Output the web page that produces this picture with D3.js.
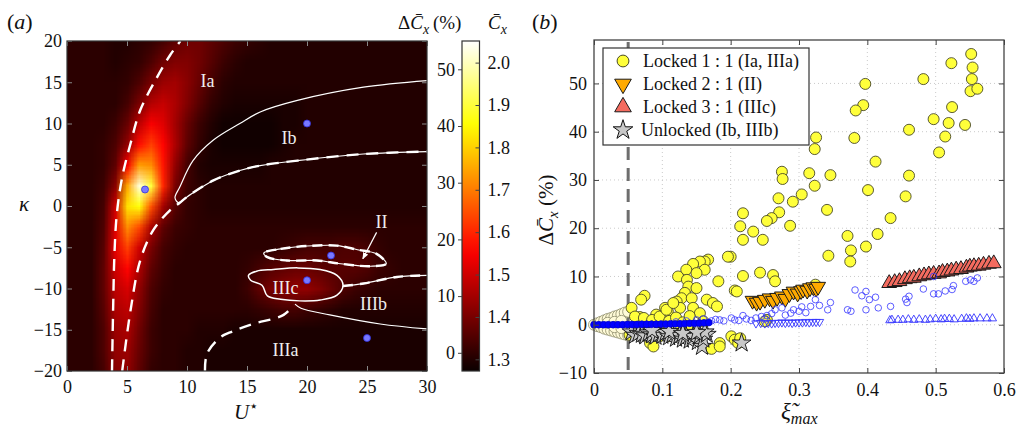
<!DOCTYPE html>
<html>
<head>
<meta charset="utf-8">
<script src="https://cdn.jsdelivr.net/npm/d3@7"></script>
<style>
  body { margin: 0; background: #fff; }
  svg { display: block; font-family: "Liberation Serif", "DejaVu Serif", serif; }
</style>
</head>
<body>
<script>
// ---------- panel (a): Cx map over (U*, kappa), values are Cx x 100 ----------
const uCols = [0, 1, 2, 3, 4, 5, 6, 7, 8, 9, 10, 11, 12, 13, 14, 15, 16, 17, 18, 19, 20, 21, 22, 23, 24, 25, 26, 27, 28, 29, 30];
const kappaRows = [20, 17.5, 15, 12.5, 10, 7.5, 5, 2.5, 0, -2.5, -5, -7.5, -10, -12.5, -15, -17.5, -20];
const cxGrid = [
  [131,131,131,131,130,130,131,132,134,137,139,139,137,135,133,132,131,130,130,130,130,130,130,130,130,130,130,130,130,130,130],
  [131,131,131,131,130,131,132,135,139,141,141,139,136,133,131,130,130,130,130,130,130,130,130,130,130,130,130,130,130,130,130],
  [131,131,131,131,131,132,135,140,144,145,142,138,134,131,130,130,130,130,130,130,130,130,130,130,130,130,130,130,130,130,130],
  [131,131,131,131,131,134,140,147,149,146,141,136,132,130,129,129,129,129,129,129,130,130,130,130,130,130,130,130,130,130,130],
  [131,131,131,131,133,138,148,155,152,145,138,133,130,128,128,128,128,128,129,129,130,130,130,130,130,130,130,130,130,130,130],
  [131,131,131,132,135,143,157,163,156,146,137,132,129,128,128,128,128,128,129,130,130,130,130,130,130,130,130,130,130,130,130],
  [131,131,131,132,137,155,174,172,158,143,134,130,129,129,129,129,129,130,130,130,130,130,130,130,130,130,130,130,130,130,130],
  [131,131,131,133,142,175,202,190,160,140,133,131,130,130,130,130,130,130,130,130,130,130,130,130,130,130,130,130,130,130,130],
  [131,131,131,134,150,182,186,165,145,136,132,131,130,130,130,130,130,130,130,130,130,130,130,130,130,130,130,130,130,130,130],
  [131,131,131,135,152,172,164,146,137,133,132,131,131,131,131,131,131,131,131,131,131,131,131,131,131,131,131,131,131,131,131],
  [131,131,131,136,153,163,150,140,134,132,131,131,131,131,131,131,131,131,132,133,134,134,134,135,135,134,132,131,131,131,131],
  [131,131,131,137,150,156,146,137,133,131,131,131,131,131,131,132,134,136,137,138,138,137,136,136,136,135,133,132,131,131,131],
  [131,131,131,137,148,151,143,135,132,131,131,131,131,131,131,133,137,140,142,143,143,141,138,135,133,132,131,131,131,131,131],
  [131,131,131,136,146,148,141,134,131,131,131,131,131,131,131,131,132,133,134,134,133,132,131,130,130,130,130,130,130,130,130],
  [131,131,131,135,144,146,139,133,131,131,131,130,130,130,129,129,129,129,129,129,129,129,129,129,129,129,129,129,129,129,129],
  [131,131,131,135,143,144,138,133,131,131,130,130,129,129,129,129,129,129,129,129,129,129,129,129,129,129,129,129,129,129,129],
  [131,131,131,134,142,143,137,132,131,131,130,130,129,129,129,129,129,129,129,129,129,129,129,129,129,129,129,129,129,129,129]
];
const uTicks = [0, 5, 10, 15, 20, 25, 30];
const kappaTicks = [-20, -15, -10, -5, 0, 5, 10, 15, 20];
const cxTicks = [1.3, 1.4, 1.5, 1.6, 1.7, 1.8, 1.9, 2.0];
const dcTicks = [0, 10, 20, 30, 40, 50];

// regime boundaries (U*, kappa)
const leftDashed = [[3.75,-20],[3.85,-12],[3.95,-6],[4.15,-1],[4.6,3.5],[5.3,7.6],[6.1,11.6],[7.5,15.6],[8.6,18.3],[9.45,20]];
const midDashed = [[4.6,-20],[5.3,-12.6],[6.1,-6.6],[7.2,-2.9],[8.6,-0.5],[9.4,0.4],[10,1.1],[12.2,3.1],[14.4,4.3],[16.1,4.9],[19.2,5.5],[24.7,6.3],[30,6.6]];
const ibSolid = [[30,15.2],[24.7,14.4],[19.2,12.8],[16.1,11.4],[14.4,10],[12.2,8],[10.5,5.5],[9.4,2.3],[9.0,1.0],[9.3,0.4],[10,1.1],[12.2,3.1],[14.4,4.3],[16.1,4.9],[19.2,5.5],[24.7,6.3],[30,6.6]];
const iiiaDashed = [[11.5,-20],[11.67,-17.9],[12.8,-15.9],[13.8,-15.2],[15.5,-14.3],[18.05,-13.2],[18.9,-12.0]];
const iiibLower = [[19.0,-11.9],[19.5,-12.4],[21.9,-13.2],[26.1,-14.3],[30,-14.9]];
const iiibUpper = [[23.0,-9.7],[24.7,-9.4],[27.5,-8.6],[30,-8.4]];
const iiicLoop = [[15.13,-8.4],[15.8,-7.9],[17.2,-7.7],[19.2,-7.5],[21.1,-7.7],[22.5,-8.4],[23.0,-9.6],[22.5,-10.8],[21.1,-11.4],[19.4,-11.5],[17.8,-11.3],[16.7,-10.9],[16.25,-9.6],[15.3,-9.0]];
const iiLoop = [[16.4,-5.7],[17.8,-5.2],[20,-4.85],[22.5,-4.8],[24.2,-5.3],[25.8,-5.8],[26.6,-7.0],[25.3,-7.3],[22.8,-7.0],[20.8,-6.6],[18.3,-6.6],[16.7,-6.2]];
const iiArrow = [[25.8,-3.2],[24.65,-6.4]];
const caseDots = [[6.5,2],[20,10],[22,-6],[20,-9],[25,-16]];
const regimeLabels = [["Ia",11.7,15.1],["Ib",18.5,8.3],["II",26.2,-1.95],["IIIc",18.2,-9.9],["IIIb",25.55,-11.9],["IIIa",18.2,-17.5]];

// ---------- panel (b): drag increase vs max amplitude ----------
const xiTicks = [0, 0.1, 0.2, 0.3, 0.4, 0.5, 0.6];
const dcAxisTicks = [-10, 0, 10, 20, 30, 40, 50];
const locked11 = [
  [0.552,56.1],[0.523,54.2],[0.554,53.3],[0.553,50.9],[0.482,50.9],[0.397,49.9],[0.551,48.4],[0.561,48.9],
  [0.394,45.5],[0.383,44.4],[0.524,45.1],[0.497,42.6],[0.519,41.8],[0.543,41.4],[0.461,40.4],[0.381,38.7],
  [0.325,38.8],[0.323,36.4],[0.514,39.0],[0.505,35.7],[0.412,33.8],[0.275,31.7],[0.276,30.2],[0.315,31.4],
  [0.346,31.0],[0.461,30.9],[0.323,28.8],[0.401,27.9],[0.456,26.6],[0.270,26.2],[0.291,25.5],[0.304,27.0],
  [0.271,23.3],[0.341,23.8],[0.434,22.1],[0.260,22.1],[0.253,21.5],[0.287,20.5],[0.371,18.4],[0.415,18.8],
  [0.398,16.2],[0.247,17.6],[0.376,15.4],[0.343,14.3],[0.375,13.1],[0.243,10.8],[0.262,10.3],[0.265,9.0],
  [0.218,23.1],[0.214,20.4],[0.218,17.6],[0.233,19.3],[0.200,14.1],[0.218,10.1],[0.206,7.1],[0.182,9.0],
  [0.167,13.5],[0.162,13.1],[0.155,13.1],[0.162,11.4],[0.145,12.6],[0.135,11.4],[0.150,10.7],[0.123,10.0],
  [0.136,9.3],[0.138,7.9],[0.150,7.6],[0.133,6.6],[0.128,5.5],[0.143,5.5],[0.121,4.8],[0.165,5.2],
  [0.174,4.5],[0.180,3.8],[0.074,6.0],[0.069,5.2],[0.055,3.5],[0.091,2.1],[0.104,3.5],[0.108,2.8],
  [0.126,3.5],[0.145,3.5],[0.155,2.4],[0.067,1.6],[0.060,1.7],[0.073,1.4],[0.085,1.0],[0.096,1.7],
  [0.110,0.8],[0.120,1.5],[0.130,0.5],[0.140,1.8],[0.160,0.7],[0.106,3.1],[0.116,4.5],[0.090,-1.0],
  [0.100,-1.5],[0.120,-1.0],[0.140,-1.2],[0.070,-0.8],[0.084,-2.4],[0.082,-3.8],[0.087,-4.5],[0.096,-2.4],
  [0.108,-2.4],[0.172,-5.0],[0.184,-3.8],[0.184,-4.5],[0.201,-2.4],[0.206,-3.1],[0.211,-3.8],[0.214,-2.8],
  [0.052,-2.1],[0.209,6.9],[0.253,1.0],[0.250,0.7],[0.324,8.3],[0.196,14.1]
];
const locked21 = [
  [0.232,5.0],[0.238,4.6],[0.243,4.8],[0.250,5.2],[0.257,5.5],[0.262,5.0],[0.268,5.6],[0.275,5.9],[0.280,5.4],
  [0.286,6.4],[0.292,6.9],[0.298,6.5],[0.303,7.0],[0.306,7.3],[0.312,7.1],[0.316,7.6],[0.321,7.8],[0.325,7.5],[0.328,7.9]
];
const locked31 = [
  [0.432,8.6],[0.440,8.8],[0.447,9.0],[0.455,9.4],[0.462,9.6],[0.468,9.7],[0.476,10.0],[0.483,10.2],
  [0.490,10.4],[0.497,10.5],[0.505,10.6],[0.510,10.9],[0.517,11.0],[0.523,11.2],[0.530,11.4],[0.537,11.5],
  [0.545,11.8],[0.550,12.0],[0.556,12.1],[0.563,12.2],[0.570,12.4],[0.578,12.6],[0.585,12.7]
];
const unlocked = [
  [0.055,-1.5],[0.060,-2.2],[0.065,-1.8],[0.070,-2.0],[0.075,-2.3],[0.080,-1.7],[0.085,-2.1],[0.090,-2.4],
  [0.095,-1.9],[0.100,-2.2],[0.105,-1.6],[0.110,-2.5],[0.115,-2.0],[0.120,-2.8],[0.125,-2.2],[0.130,-3.0],
  [0.135,-2.5],[0.140,-3.2],[0.145,-2.4],[0.152,-3.5],[0.155,-2.2],[0.158,-4.5],[0.160,-3.0],[0.165,-2.0],
  [0.162,-1.5],[0.216,-3.8],[0.085,-1.2],[0.110,-1.4],[0.130,-1.8],[0.150,-1.6]
];
const smallAmp = [
  [0,0],[0.005,0.3],[0.005,-0.3],[0.010,0.6],[0.010,-0.5],[0.015,0.9],[0.015,-0.8],[0.020,1.2],[0.020,-1.0],
  [0.025,1.4],[0.025,-1.2],[0.030,1.7],[0.030,-1.4],[0.035,1.9],[0.035,-1.6],[0.040,2.2],[0.040,-1.8],
  [0.045,2.5],[0.045,-2.0],[0.050,2.7],[0.050,-2.2],[0.020,0.4],[0.030,0.6],[0.040,0.8],[0.030,-0.5],[0.040,-0.7]
];
const linearBand = [
  [0,0],[0.007,0],[0.014,0],[0.021,0],[0.028,0],[0.035,0],[0.042,0],[0.049,0.05],[0.056,0.05],[0.063,0.05],
  [0.070,0.1],[0.077,0.1],[0.084,0.1],[0.091,0.1],[0.098,0.15],[0.105,0.15],[0.112,0.2],[0.119,0.2],
  [0.126,0.2],[0.133,0.25],[0.140,0.3],[0.147,0.3],[0.154,0.35],[0.161,0.4],[0.168,0.45]
];
const cylCircles = [
  [0.120,0.6],[0.135,0.8],[0.150,1.0],[0.160,1.2],[0.172,0.8],[0.178,1.1],[0.184,1.0],[0.190,0.8],[0.201,1.4],
  [0.206,1.0],[0.212,0.9],[0.218,1.9],[0.223,1.2],[0.230,0.9],[0.237,1.4],[0.245,1.7],[0.250,1.2],[0.253,1.9],
  [0.260,2.3],[0.265,3.1],[0.275,3.5],[0.280,2.0],[0.288,2.4],[0.292,3.1],[0.300,2.8],[0.304,3.7],[0.310,2.5],
  [0.317,3.8],[0.324,5.2],[0.330,4.0],[0.342,3.1],[0.346,4.6],[0.371,3.1],[0.376,2.8],[0.382,7.2],[0.392,6.0],
  [0.398,6.9],[0.398,3.1],[0.403,5.2],[0.412,5.7],[0.416,3.5],[0.434,3.8],[0.456,5.3],[0.461,5.9],[0.458,4.6],
  [0.482,7.4],[0.497,6.4],[0.497,10.0],[0.504,6.4],[0.514,7.0],[0.524,7.3],[0.526,8.1],[0.544,9.0],[0.551,9.3],
  [0.556,9.0],[0.561,9.7]
];
const cylDown = [
  [0.237,0.3],[0.244,0.4],[0.250,0.3],[0.255,0.4],[0.260,0.3],[0.265,0.4],[0.270,0.4],[0.275,0.5],[0.280,0.4],
  [0.285,0.5],[0.290,0.4],[0.295,0.5],[0.300,0.5],[0.305,0.5],[0.310,0.6],[0.315,0.5],[0.320,0.6],[0.325,0.6],[0.330,0.6]
];
const cylUp = [
  [0.433,0.9],[0.436,1.0],[0.445,1.0],[0.452,1.0],[0.460,1.1],[0.468,1.0],[0.476,1.1],[0.485,1.0],[0.492,1.1],
  [0.500,1.2],[0.508,1.1],[0.513,1.2],[0.520,1.2],[0.527,1.1],[0.538,1.2],[0.545,1.3],[0.550,1.2],[0.556,1.3],
  [0.565,1.3],[0.575,1.3],[0.583,1.3]
];
const legendLabels = ["Locked 1 : 1 (Ia, IIIa)", "Locked 2 : 1 (II)", "Locked 3 : 1 (IIIc)", "Unlocked (Ib, IIIb)"];

// ------------------------------------------------------------------
const W = 1024, H = 432;
const FONT = '"Liberation Serif", "DejaVu Serif", serif';
const svg = d3.select("body").append("svg").attr("width", W).attr("height", H);
const defs = svg.append("defs");

// matplotlib "hot"
function hot(t) {
  t = Math.max(0, Math.min(1, t));
  const r = 0.0416 + 0.9584 * Math.min(1, t / 0.365);
  const g = Math.max(0, Math.min(1, (t - 0.365) / 0.381));
  const b = Math.max(0, Math.min(1, (t - 0.746) / 0.254));
  return d3.rgb(r * 255, g * 255, b * 255);
}
const cxMin = 1.2725, cxMax = 2.051;

function styleAxis(g, color) {
  g.attr("font-family", FONT).attr("font-size", 18);
  g.select(".domain").remove();
  g.selectAll(".tick line").attr("stroke", color || "#444");
  g.selectAll(".tick text").attr("fill", "#111");
}

// ---------- panel (a) ----------
const xA = d3.scaleLinear().domain([0, 30]).range([67, 427]);
const yA = d3.scaleLinear().domain([-20, 20]).range([371, 41]);

const canvas = document.createElement("canvas");
canvas.width = uCols.length;
canvas.height = kappaRows.length;
const ctx = canvas.getContext("2d");
const img = ctx.createImageData(canvas.width, canvas.height);
cxGrid.forEach(function(row, j) {
  row.forEach(function(v, i) {
    const c = hot((v / 100 - cxMin) / (cxMax - cxMin));
    const k = (j * canvas.width + i) * 4;
    img.data[k] = c.r; img.data[k + 1] = c.g; img.data[k + 2] = c.b; img.data[k + 3] = 255;
  });
});
ctx.putImageData(img, 0, 0);

defs.append("clipPath").attr("id", "clipA").append("rect")
  .attr("x", xA(0)).attr("y", yA(20)).attr("width", xA(30) - xA(0)).attr("height", yA(-20) - yA(20));

const du = (uCols[1] - uCols[0]) / 2, dk = (kappaRows[0] - kappaRows[1]) / 2;
svg.append("image")
  .attr("href", canvas.toDataURL())
  .attr("x", xA(uCols[0] - du))
  .attr("y", yA(kappaRows[0] + dk))
  .attr("width", xA(uCols[uCols.length - 1] + du) - xA(uCols[0] - du))
  .attr("height", yA(kappaRows[kappaRows.length - 1] - dk) - yA(kappaRows[0] + dk))
  .attr("preserveAspectRatio", "none")
  .attr("clip-path", "url(#clipA)");

const gA = svg.append("g").attr("clip-path", "url(#clipA)");
const lineA = d3.line().x(d => xA(d[0])).y(d => yA(d[1])).curve(d3.curveCatmullRom);
const loopA = d3.line().x(d => xA(d[0])).y(d => yA(d[1])).curve(d3.curveCatmullRomClosed);

function whiteLine(path, width, dash) {
  gA.append("path").attr("d", path).attr("fill", "none").attr("stroke", "#fff")
    .attr("stroke-width", width).attr("stroke-dasharray", dash || null);
}
whiteLine(lineA(leftDashed), 2.4, "12,8");
whiteLine(lineA(ibSolid), 1.2);
whiteLine(lineA(midDashed), 2.4, "12,8");
whiteLine(lineA(iiiaDashed), 2.4, "12,8");
whiteLine(lineA(iiibLower), 1.2);
whiteLine(lineA(iiibUpper), 1.2);
whiteLine(lineA(iiibUpper), 2.4, "10,7");
whiteLine(loopA(iiicLoop), 1.5);
whiteLine(loopA(iiLoop), 1.2);
whiteLine(loopA(iiLoop), 2.4, "10,6");

defs.append("marker").attr("id", "arrowW").attr("viewBox", "0 0 10 10")
  .attr("refX", 9).attr("refY", 5).attr("markerWidth", 7).attr("markerHeight", 7)
  .attr("orient", "auto").attr("markerUnits", "userSpaceOnUse")
  .append("path").attr("d", "M0,1 L10,5 L0,9 Z").attr("fill", "#fff");
gA.append("line")
  .attr("x1", xA(iiArrow[0][0])).attr("y1", yA(iiArrow[0][1]))
  .attr("x2", xA(iiArrow[1][0])).attr("y2", yA(iiArrow[1][1]))
  .attr("stroke", "#fff").attr("stroke-width", 1.2).attr("marker-end", "url(#arrowW)");

gA.selectAll("circle.case").data(caseDots).join("circle")
  .attr("cx", d => xA(d[0])).attr("cy", d => yA(d[1])).attr("r", 3.5)
  .attr("fill", "#7878ff").attr("stroke", "#3030e0").attr("stroke-width", 0.8);

gA.selectAll("text.regime").data(regimeLabels).join("text")
  .attr("x", d => xA(d[1])).attr("y", d => yA(d[2]))
  .attr("text-anchor", "middle").attr("dominant-baseline", "central")
  .attr("font-family", FONT).attr("font-size", 18).attr("fill", "#eeeeee")
  .text(d => d[0]);

// axes (a)
styleAxis(svg.append("g").attr("transform", `translate(0,${yA(-20)})`)
  .call(d3.axisBottom(xA).tickValues(uTicks).tickSize(-5).tickPadding(9)), "#888");
styleAxis(svg.append("g").attr("transform", `translate(0,${yA(20)})`)
  .call(d3.axisTop(xA).tickValues(uTicks).tickSize(-5).tickFormat("")), "#888");
styleAxis(svg.append("g").attr("transform", `translate(${xA(0)},0)`)
  .call(d3.axisLeft(yA).tickValues(kappaTicks).tickSize(-5).tickPadding(5)), "#888");
styleAxis(svg.append("g").attr("transform", `translate(${xA(30)},0)`)
  .call(d3.axisRight(yA).tickValues(kappaTicks).tickSize(-5).tickFormat("")), "#888");
svg.append("rect").attr("x", xA(0)).attr("y", yA(20))
  .attr("width", xA(30) - xA(0)).attr("height", yA(-20) - yA(20))
  .attr("fill", "none").attr("stroke", "#333").attr("stroke-width", 1.2);

// colorbar
const cScale = d3.scaleLinear().domain([cxMin, cxMax]).range([371, 41]);
const dScale = d3.scaleLinear().domain([0, 50]).range([352.8, 69.3]);
const cbX = 462, cbW = 17.5;
const grad = defs.append("linearGradient").attr("id", "hotGrad")
  .attr("x1", 0).attr("y1", 1).attr("x2", 0).attr("y2", 0);
d3.range(0, 1.0001, 0.05).forEach(function(t) {
  grad.append("stop").attr("offset", t).attr("stop-color", hot(t).formatHex());
});
svg.append("rect").attr("x", cbX).attr("y", cScale(cxMax)).attr("width", cbW)
  .attr("height", cScale(cxMin) - cScale(cxMax))
  .attr("fill", "url(#hotGrad)").attr("stroke", "#333").attr("stroke-width", 1.2);
styleAxis(svg.append("g").attr("transform", `translate(${cbX},0)`)
  .call(d3.axisLeft(dScale).tickValues(dcTicks).tickSize(4).tickPadding(3)));
styleAxis(svg.append("g").attr("transform", `translate(${cbX + cbW},0)`)
  .call(d3.axisRight(cScale).tickValues(cxTicks).tickSize(-4).tickPadding(8)
    .tickFormat(d3.format(".1f"))));

// labels (a)
function cbarLabel(x, y, withDelta) {
  const t = svg.append("text").attr("x", x).attr("y", y).attr("font-family", FONT).attr("font-size", 19).attr("fill", "#111");
  if (withDelta) t.append("tspan").text("Δ");
  t.append("tspan").attr("font-style", "italic").text("C\u0304");
  t.append("tspan").attr("font-style", "italic").attr("font-size", 14).attr("dy", 5).text("x");
  if (withDelta) t.append("tspan").attr("dy", -5).text("\u2009(%)");
  return t;
}
cbarLabel(398, 29, true);
cbarLabel(488, 29, false);

const aLab = svg.append("text").attr("x", 7).attr("y", 29).attr("font-family", FONT).attr("font-size", 22).attr("fill", "#111");
aLab.append("tspan").text("(");
aLab.append("tspan").attr("font-style", "italic").text("a");
aLab.append("tspan").text(")");

svg.append("text").attr("x", 24).attr("y", 211).attr("text-anchor", "middle")
  .attr("font-family", FONT).attr("font-size", 21).attr("font-style", "italic").attr("fill", "#111").text("κ");
const uLab = svg.append("text").attr("x", 234).attr("y", 419)
  .attr("font-family", FONT).attr("font-size", 21).attr("fill", "#111");
uLab.append("tspan").attr("font-style", "italic").text("U");
uLab.append("tspan").attr("font-size", 15).attr("dy", -8).text("⋆");

// ---------- panel (b) ----------
const xB = d3.scaleLinear().domain([0, 0.6]).range([594, 1004]);
const yB = d3.scaleLinear().domain([-10, 59]).range([373, 40]);
const gB = svg.append("g");

// dotted grid
gB.selectAll("line.gx").data(xiTicks.slice(1, -1)).join("line")
  .attr("x1", d => xB(d)).attr("x2", d => xB(d)).attr("y1", yB(59)).attr("y2", yB(-10))
  .attr("stroke", "#c4c4c4").attr("stroke-width", 0.9).attr("stroke-dasharray", "1,3");
gB.selectAll("line.gy").data(dcAxisTicks.slice(1)).join("line")
  .attr("x1", xB(0)).attr("x2", xB(0.6)).attr("y1", d => yB(d)).attr("y2", d => yB(d))
  .attr("stroke", "#c4c4c4").attr("stroke-width", 0.9).attr("stroke-dasharray", "1,3");

// threshold line
gB.append("line").attr("x1", xB(0.05)).attr("x2", xB(0.05)).attr("y1", yB(59) + 2).attr("y2", yB(-10))
  .attr("stroke", "#6e6e6e").attr("stroke-width", 3).attr("stroke-dasharray", "13,8");

function drawMarks(data, type, size, fill, stroke, rot, sw) {
  gB.append("g").selectAll("path").data(data).join("path")
    .attr("transform", d => `translate(${xB(d[0])},${yB(d[1])}) rotate(${rot})`)
    .attr("d", d3.symbol().type(type).size(size))
    .attr("fill", fill).attr("stroke", stroke).attr("stroke-width", sw);
}
drawMarks(smallAmp, d3.symbolCircle, 95, "#fffbd8", "#8c8a6a", 0, 0.8);
drawMarks(locked11, d3.symbolCircle, 95, "#ffff3a", "#4a4a26", 0, 0.9);
drawMarks(unlocked, d3.symbolStar, 110, "#c8c8c8", "#111", 0, 0.9);
drawMarks(locked21, d3.symbolTriangle, 95, "#ffaa00", "#1a1a1a", 180, 1);
drawMarks(locked31, d3.symbolTriangle, 95, "#f46b5f", "#1a1a1a", 0, 1);
drawMarks(cylCircles, d3.symbolCircle, 34, "none", "#3535ff", 0, 0.8);
drawMarks(cylDown, d3.symbolTriangle, 30, "none", "#3535ff", 180, 0.9);
drawMarks(cylUp, d3.symbolTriangle, 30, "none", "#3535ff", 0, 0.9);
drawMarks(linearBand, d3.symbolCircle, 36, "#0000ff", "#0000d0", 0, 0.8);

// axes (b)
styleAxis(svg.append("g").attr("transform", `translate(0,${yB(-10)})`)
  .call(d3.axisBottom(xB).tickValues(xiTicks).tickSize(-5).tickPadding(10)
    .tickFormat(d => d === 0 ? "0" : d3.format(".1f")(d))));
styleAxis(svg.append("g").attr("transform", `translate(0,${yB(59)})`)
  .call(d3.axisTop(xB).tickValues(xiTicks).tickSize(-5).tickFormat("")));
styleAxis(svg.append("g").attr("transform", `translate(${xB(0)},0)`)
  .call(d3.axisLeft(yB).tickValues(dcAxisTicks).tickSize(-5).tickPadding(7)));
styleAxis(svg.append("g").attr("transform", `translate(${xB(0.6)},0)`)
  .call(d3.axisRight(yB).tickValues(dcAxisTicks).tickSize(-5).tickFormat("")));
svg.append("rect").attr("x", xB(0)).attr("y", yB(59))
  .attr("width", xB(0.6) - xB(0)).attr("height", yB(-10) - yB(59))
  .attr("fill", "none").attr("stroke", "#444").attr("stroke-width", 1.3);

// legend
const legend = svg.append("g");
legend.append("rect").attr("x", 603).attr("y", 48).attr("width", 206).attr("height", 97)
  .attr("fill", "#fff").attr("stroke", "#333").attr("stroke-width", 1.2);
const legendMarks = [
  [d3.symbolCircle, 110, "#ffff3a", "#4a4a26", 0],
  [d3.symbolTriangle, 120, "#ffaa00", "#1a1a1a", 180],
  [d3.symbolTriangle, 120, "#f46b5f", "#1a1a1a", 0],
  [d3.symbolStar, 120, "#c8c8c8", "#111", 0]
];
legendLabels.forEach(function(label, i) {
  const y = 61 + i * 23;
  const m = legendMarks[i];
  legend.append("path").attr("transform", `translate(623,${y}) rotate(${m[4]})`)
    .attr("d", d3.symbol().type(m[0]).size(m[1]))
    .attr("fill", m[2]).attr("stroke", m[3]).attr("stroke-width", 1);
  legend.append("text").attr("x", i === 3 ? 641 : 643).attr("y", y).attr("dy", "0.33em")
    .attr("font-family", FONT).attr("font-size", 18).attr("fill", "#111").text(label);
});

// labels (b)
const bLab = svg.append("text").attr("x", 532).attr("y", 29).attr("font-family", FONT).attr("font-size", 22).attr("fill", "#111");
bLab.append("tspan").text("(");
bLab.append("tspan").attr("font-style", "italic").text("b");
bLab.append("tspan").text(")");

const yLab = svg.append("text").attr("transform", "translate(553,210) rotate(-90)")
  .attr("text-anchor", "middle").attr("font-family", FONT).attr("font-size", 21).attr("fill", "#111");
yLab.append("tspan").text("Δ");
yLab.append("tspan").attr("font-style", "italic").text("C\u0304");
yLab.append("tspan").attr("font-style", "italic").attr("font-size", 15).attr("dy", 5).text("x");
yLab.append("tspan").attr("dy", -5).text(" (%)");

const xLab = svg.append("text").attr("x", 781).attr("y", 419)
  .attr("font-family", FONT).attr("font-size", 23).attr("fill", "#111");
xLab.append("tspan").attr("font-style", "italic").text("ξ\u0303");
xLab.append("tspan").attr("font-style", "italic").attr("font-size", 16).attr("dy", 5).text("max");
</script>
</body>
</html>
